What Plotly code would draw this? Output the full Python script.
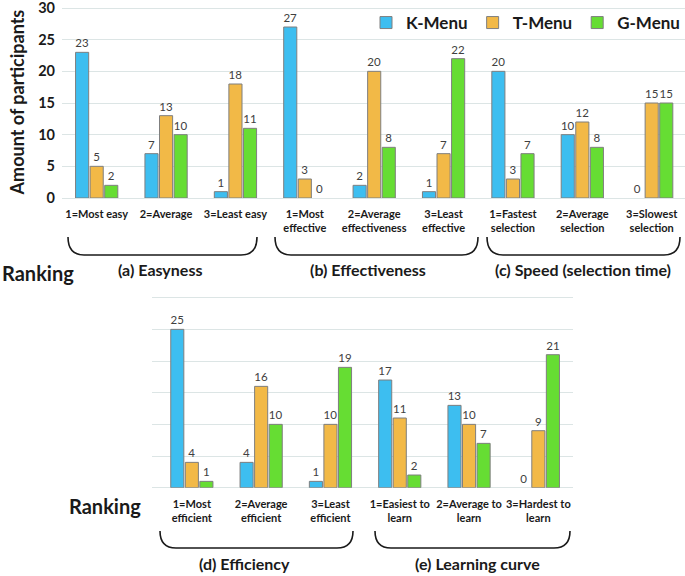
import plotly.graph_objects as go

# ---------------- data ----------------
series_names = ["K-Menu", "T-Menu", "G-Menu"]

categories_top = ["1=Most easy", "2=Average", "3=Least easy",
                  "1=Most<br>effective", "2=Average<br>effectiveness", "3=Least<br>effective",
                  "1=Fastest<br>selection", "2=Average<br>selection", "3=Slowest<br>selection"]
k_top = [23, 7, 1, 27, 2, 1, 20, 10, 0]
t_top = [5, 13, 18, 3, 20, 7, 3, 12, 15]
g_top = [2, 10, 11, 0, 8, 22, 7, 8, 15]

categories_bottom = ["1=Most<br>efficient", "2=Average<br>efficient", "3=Least<br>efficient",
                     "1=Easiest to<br>learn", "2=Average to<br>learn", "3=Hardest to<br>learn"]
k_bot = [25, 4, 1, 17, 13, 0]
t_bot = [4, 16, 10, 11, 10, 9]
g_bot = [1, 10, 19, 2, 7, 21]

y_ticks = [0, 5, 10, 15, 20, 25, 30]
group_labels_top = ["(a) Easyness", "(b) Effectiveness", "(c) Speed (selection time)"]
group_labels_bottom = ["(d) Efficiency", "(e) Learning curve"]
row_label = "Ranking"
y_title = "Amount of participants"

# ---------------- styling ----------------
W, H = 685, 576
FONT = "Lato"
colors = ["#3DBEF0", "#F2B947", "#66DD33"]
outline = "#7F7F7F"
grid = "#DCE5E5"
dark = "#1A1A1A"
YMAX = 30.3
UNIT = 190 / 30.0  # pixels per participant


def px(x):
    return x / W


def py(y):
    return 1 - y / H


fig = go.Figure()

top_vals = [k_top, t_top, g_top]
bot_vals = [k_bot, t_bot, g_bot]
for i, name in enumerate(series_names):
    for cats, vals, xa, ya, show in ((categories_top, top_vals[i], "x", "y", True),
                                     (categories_bottom, bot_vals[i], "x2", "y2", False)):
        fig.add_trace(go.Bar(
            x=cats, y=vals, xaxis=xa, yaxis=ya, showlegend=show,
            name=name, legendgroup=name,
            marker=dict(color=colors[i],
                        line=dict(color=outline, width=[0 if v == 0 else 1 for v in vals])),
            texttemplate="%{y}", textposition="outside", constraintext="none",
            cliponaxis=False,
            textfont=dict(family=FONT, size=11.5, color="#404040"),
        ))

tickfont_cat = dict(family=FONT, size=11, color=dark, weight="bold")

top0, bot0 = 198, 487.7
fig.update_layout(
    width=W, height=H,
    margin=dict(l=0, r=0, t=0, b=0),
    paper_bgcolor="white", plot_bgcolor="white",
    barmode="group", bargap=0.37, bargroupgap=0.1,
    font=dict(family=FONT, color=dark),
    xaxis=dict(domain=[px(62), px(685)], range=[-0.5, 8.48], anchor="y",
               tickfont=tickfont_cat, showgrid=False, ticks="", automargin=False,
               tickangle=0, ticklabelstandoff=8),
    yaxis=dict(domain=[py(top0), py(top0 - YMAX * UNIT)], range=[0, YMAX], anchor="x",
               tickvals=y_ticks, showgrid=True, gridcolor=grid, gridwidth=1,
               zeroline=True, zerolinecolor=grid, zerolinewidth=1,
               tickfont=dict(family=FONT, size=14.5, color=dark, weight="bold"),
               ticklabeloverflow="allow",
               ticks="", automargin=False, ticklabelstandoff=6,
               title=dict(text=y_title, standoff=8,
                          font=dict(family=FONT, size=18, color=dark, weight="bold"))),
    xaxis2=dict(domain=[px(152), px(573)], range=[-0.575, 5.5], anchor="y2",
                tickfont=tickfont_cat, showgrid=False, ticks="", automargin=False,
                tickangle=0, ticklabelstandoff=8),
    yaxis2=dict(domain=[py(bot0), py(bot0 - YMAX * UNIT)], range=[0, YMAX], anchor="x2",
                tickvals=y_ticks, showgrid=True, gridcolor=grid, gridwidth=1,
                zeroline=True, zerolinecolor=grid, zerolinewidth=1,
                showticklabels=False, ticks="", automargin=False),
    legend=dict(orientation="h", x=1.0, xanchor="right", y=py(5), yanchor="top",
                bgcolor="rgba(0,0,0,0)", itemwidth=30, tracegroupgap=0,
                font=dict(family=FONT, size=17, color=dark, weight="bold")),
)


def bracket(x1, x2, ytop, ybot):
    r = 16
    a, b = px(x1), px(x2)
    t, u = py(ytop), py(ybot)
    ra = px(x1 + r)
    rb = px(x2 - r)
    path = (f"M {a},{t} Q {a},{u} {ra},{u} L {rb},{u} Q {b},{u} {b},{t}")
    return dict(type="path", path=path, xref="paper", yref="paper",
                line=dict(color=dark, width=1.6))


shapes = [
    bracket(68, 257, 237, 255),
    bracket(275, 478, 237, 255),
    bracket(487, 680, 237, 255),
    bracket(160, 353, 531, 548),
    bracket(375, 570, 531, 548),
]
fig.update_layout(shapes=shapes)

label_font = dict(family=FONT, size=16, color=dark, weight="bold")
annotations = []
for txt, cx in zip(group_labels_top, [160, 368, 583]):
    annotations.append(dict(text=txt, x=px(cx), y=py(269), xref="paper", yref="paper",
                            showarrow=False, xanchor="center", yanchor="middle",
                            font=label_font))
for txt, cx in zip(group_labels_bottom, [244, 477]):
    annotations.append(dict(text=txt, x=px(cx), y=py(563), xref="paper", yref="paper",
                            showarrow=False, xanchor="center", yanchor="middle",
                            font=label_font))
ranking_font = dict(family=FONT, size=20, color=dark, weight="bold")
annotations.append(dict(text=row_label, x=px(0), y=py(273), xref="paper", yref="paper",
                        showarrow=False, xanchor="left", yanchor="middle", font=ranking_font))
annotations.append(dict(text=row_label, x=px(67), y=py(506), xref="paper", yref="paper",
                        showarrow=False, xanchor="left", yanchor="middle", font=ranking_font))
fig.update_layout(annotations=annotations)

fig.write_html("out.html", config={"displayModeBar": False},
               post_script="document.body.style.margin='0';")
